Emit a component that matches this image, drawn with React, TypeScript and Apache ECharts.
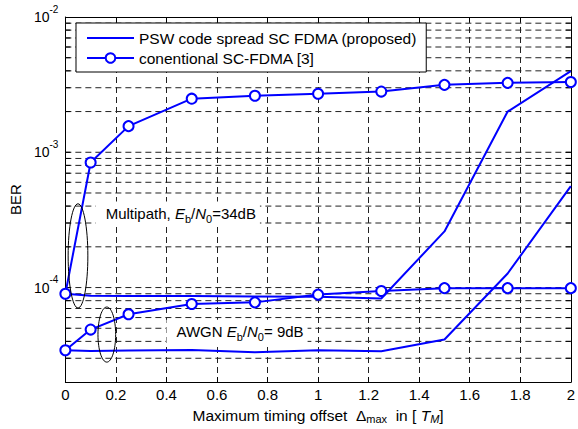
import React, { useEffect, useRef } from 'react';
import * as echarts from 'echarts';

const FONT = '"Liberation Sans", Arial, Helvetica, sans-serif';
const BLUE = '#0000ff';

const PSW_NAME = 'PSW code spread SC FDMA (proposed)';
const CONV_NAME = 'conentional SC-FDMA [3]';

// timing offsets (x)
const xValues = [0, 0.1, 0.25, 0.5, 0.75, 1, 1.25, 1.5, 1.75, 2];
// BER values
const convMultipath = [9.0e-5, 8.4e-4, 1.56e-3, 2.49e-3, 2.62e-3, 2.71e-3, 2.81e-3, 3.15e-3, 3.26e-3, 3.31e-3];
const pswMultipath = [9.0e-5, 8.7e-5, 8.65e-5, 8.65e-5, 8.6e-5, 8.55e-5, 8.3e-5, 2.6e-4, 2.0e-3, 3.98e-3];
const convAwgn = [3.44e-5, 4.89e-5, 6.35e-5, 7.55e-5, 7.77e-5, 8.87e-5, 9.43e-5, 9.9e-5, 9.9e-5, 9.9e-5];
const pswAwgn = [3.44e-5, 3.4e-5, 3.42e-5, 3.46e-5, 3.33e-5, 3.44e-5, 3.38e-5, 4.13e-5, 1.27e-4, 5.62e-4];

// axis ranges
const xMin = 0;
const xMax = 2;
const xStep = 0.2;
const yMin = 2e-5;
const yMax = 1e-2;
const decades = [-5, -4, -3];
const mantissas = [1, 2, 3, 4, 5, 6, 7, 8, 9];

// annotation anchors (data space)
const ellipseMulti = { x: 0.05, dx: 0.039, top: 4.16e-4, bottom: 7.06e-5 };
const ellipseAwgn = { x: 0.164, dx: 0.035, top: 7.18e-5, bottom: 2.81e-5 };
const textMulti = { x: 0.12, y: 3.52e-4 };
const textAwgn = { x: 0.4, y: 4.72e-5 };

const gridValues: number[] = [];
decades.forEach((e) => mantissas.forEach((m) => {
  const v = m * Math.pow(10, e);
  if (v > yMin * 1.0001 && v < yMax * 0.9999) gridValues.push(v);
}));

const pairs = (ys: number[]) => xValues.map((x, i) => [x, ys[i]]);

export default function App() {
  const ref = useRef<HTMLDivElement>(null);
  useEffect(() => {
    if (!ref.current) return;
    const chart = echarts.init(ref.current, undefined, { renderer: 'svg' });
    const dash = [6, 4];
    const option: any = {
      animation: false,
      backgroundColor: '#fff',
      textStyle: { fontFamily: FONT },
      grid: { left: 62, right: 3, top: 17, bottom: 40.5, containLabel: false },
      legend: {
        orient: 'vertical',
        left: 76,
        top: 23,
        data: [
          { name: PSW_NAME, itemStyle: { opacity: 0 } },
          { name: CONV_NAME },
        ],
        itemWidth: 47,
        itemHeight: 12,
        itemGap: 4,
        padding: [7, 9, 6, 10],
        backgroundColor: '#fff',
        borderColor: '#000',
        borderWidth: 1,
        borderRadius: 0,
        selectedMode: false,
        textStyle: { fontSize: 15.5, color: '#000', fontFamily: FONT, lineHeight: 15 },
        z: 20,
      },
      xAxis: [
        {
          type: 'value',
          min: xMin,
          max: xMax,
          interval: xStep,
          position: 'bottom',
          name: '{n|Maximum timing offset  }{d|Δ}{sb|max}{n|  in [ }{i|T}{sbi|M}{n|]}',
          nameLocation: 'middle',
          nameGap: 21,
          nameTextStyle: {
            rich: {
              n: { fontSize: 15.5, color: '#000', fontFamily: FONT, lineHeight: 18 },
              d: { fontSize: 15.5, color: '#000', fontFamily: FONT, lineHeight: 18 },
              i: { fontSize: 15.5, color: '#000', fontFamily: FONT, fontStyle: 'italic', lineHeight: 18 },
              sb: { fontSize: 11, color: '#000', fontFamily: FONT, lineHeight: 10, verticalAlign: 'bottom' },
              sbi: { fontSize: 11, color: '#000', fontFamily: FONT, fontStyle: 'italic', lineHeight: 10, verticalAlign: 'bottom' },
            },
          },
          axisLine: { show: true, onZero: false, lineStyle: { color: '#000', width: 1 } },
          axisTick: { show: true, inside: true, length: 5, lineStyle: { color: '#000' } },
          axisLabel: { fontSize: 15, color: '#000', fontFamily: FONT, margin: 5 },
          splitLine: { show: true, lineStyle: { color: '#222', type: dash, width: 1 } },
        },
        {
          type: 'value',
          min: xMin,
          max: xMax,
          interval: xStep,
          position: 'top',
          axisLine: { show: true, onZero: false, lineStyle: { color: '#000', width: 1 } },
          axisTick: { show: true, inside: true, length: 5, lineStyle: { color: '#000' } },
          axisLabel: { show: false },
          splitLine: { show: false },
        },
      ],
      yAxis: [
        {
          type: 'log',
          logBase: 10,
          min: yMin,
          max: yMax,
          position: 'left',
          name: 'BER',
          nameLocation: 'middle',
          nameRotate: 90,
          nameGap: 41,
          nameTextStyle: { fontSize: 15, color: '#000', fontFamily: FONT },
          axisLine: { show: true, onZero: false, lineStyle: { color: '#000', width: 1 } },
          axisTick: { show: true, inside: true, length: 5, lineStyle: { color: '#000' } },
          axisLabel: {
            margin: 7,
            formatter: (v: number) => {
              const l = Math.log10(v);
              const r = Math.round(l);
              if (Math.abs(l - r) > 1e-6) return '';
              return `{b|10}{s|${r}}`;
            },
            rich: {
              b: { fontSize: 14, color: '#000', fontFamily: FONT, lineHeight: 26 },
              s: { fontSize: 10, color: '#000', fontFamily: FONT, lineHeight: 10, verticalAlign: 'top' },
            },
          },
          splitLine: { show: false },
        },
        {
          type: 'log',
          logBase: 10,
          min: yMin,
          max: yMax,
          position: 'right',
          axisLine: { show: true, onZero: false, lineStyle: { color: '#000', width: 1 } },
          axisTick: { show: true, inside: true, length: 5, lineStyle: { color: '#000' } },
          axisLabel: { show: false },
          splitLine: { show: false },
        },
      ],
      series: [
        {
          name: 'grid',
          type: 'custom',
          silent: true,
          z: 1,
          xAxisIndex: 0,
          yAxisIndex: 0,
          data: gridValues.map((v) => [xMin, v]),
          renderItem: (_params: any, api: any) => {
            const v = api.value(1);
            const a = api.coord([xMin, v]);
            const b = api.coord([xMax, v]);
            return {
              type: 'group',
              children: [
                {
                  type: 'line',
                  shape: { x1: a[0], y1: a[1], x2: b[0], y2: b[1] },
                  style: { stroke: '#222', lineWidth: 1, lineDash: dash },
                },
                {
                  type: 'line',
                  shape: { x1: a[0], y1: a[1], x2: a[0] + 5, y2: a[1] },
                  style: { stroke: '#000', lineWidth: 1 },
                },
                {
                  type: 'line',
                  shape: { x1: b[0] - 5, y1: b[1], x2: b[0], y2: b[1] },
                  style: { stroke: '#000', lineWidth: 1 },
                },
              ],
            };
          },
        },
        {
          name: PSW_NAME,
          type: 'line',
          data: pairs(pswMultipath),
          symbol: 'none',
          lineStyle: { color: BLUE, width: 2 },
          itemStyle: { color: BLUE },
          z: 3,
        },
        {
          name: PSW_NAME,
          type: 'line',
          data: pairs(pswAwgn),
          symbol: 'none',
          lineStyle: { color: BLUE, width: 2 },
          itemStyle: { color: BLUE },
          z: 3,
        },
        {
          name: CONV_NAME,
          type: 'line',
          data: pairs(convMultipath),
          symbol: 'emptyCircle',
          symbolSize: 10,
          lineStyle: { color: BLUE, width: 2 },
          itemStyle: { color: BLUE, borderWidth: 2 },
          z: 4,
        },
        {
          name: CONV_NAME,
          type: 'line',
          data: pairs(convAwgn),
          symbol: 'emptyCircle',
          symbolSize: 10,
          lineStyle: { color: BLUE, width: 2 },
          itemStyle: { color: BLUE, borderWidth: 2 },
          z: 4,
        },
      ],
    };
    chart.setOption(option);

    const px = (x: number, y: number) =>
      chart.convertToPixel({ xAxisIndex: 0, yAxisIndex: 0 }, [x, y]) as number[];

    const ellipse = (e: { x: number; dx: number; top: number; bottom: number }) => {
      const t = px(e.x, e.top);
      const b = px(e.x, e.bottom);
      const r = px(e.x + e.dx, e.top);
      return {
        type: 'ellipse',
        silent: true,
        z: 10,
        shape: { cx: t[0], cy: (t[1] + b[1]) / 2, rx: r[0] - t[0], ry: (b[1] - t[1]) / 2 },
        style: { fill: 'none', stroke: '#000', lineWidth: 1 },
      };
    };

    const rich = {
      n: { fontSize: 15, fill: '#000', fontFamily: FONT, lineHeight: 22 },
      i: { fontSize: 15, fill: '#000', fontFamily: FONT, fontStyle: 'italic', lineHeight: 22 },
      sb: { fontSize: 11, fill: '#000', fontFamily: FONT, lineHeight: 11, verticalAlign: 'bottom' },
    };

    const label = (pos: { x: number; y: number }, text: string) => {
      const p = px(pos.x, pos.y);
      return {
        type: 'text',
        silent: true,
        z: 9,
        x: p[0],
        y: p[1],
        style: {
          text,
          rich,
          align: 'left',
          verticalAlign: 'middle',
          backgroundColor: '#fff',
          padding: [1, 4, 1, 10],
          fill: '#000',
          fontSize: 15,
          fontFamily: FONT,
        },
      };
    };

    chart.setOption({
      graphic: [
        ellipse(ellipseMulti),
        ellipse(ellipseAwgn),
        label(textMulti, '{n|Multipath, }{i|E}{sb|b}{n|/}{i|N}{sb|0}{n|=34dB}'),
        label(textAwgn, '{n|AWGN }{i|E}{sb|b}{n|/}{i|N}{sb|0}{n|= 9dB}'),
      ],
    });

    return () => chart.dispose();
  }, []);

  return (
    <div
      ref={ref}
      style={{ position: 'fixed', left: 0, top: 0, width: 578, height: 429, background: '#fff' }}
    />
  );
}
